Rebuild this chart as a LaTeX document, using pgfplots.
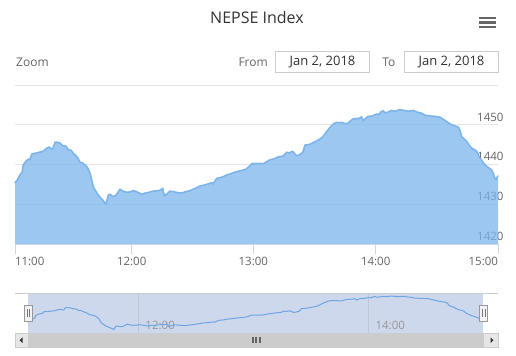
\documentclass[border=0pt]{standalone}
\usepackage{pgfplots}
\pgfplotsset{compat=1.18}
\usepackage{fontspec}
\setmainfont{Open Sans}
\definecolor{linec}{RGB}{124,181,236}
\definecolor{fillc}{RGB}{124,181,236}
\definecolor{gridc}{RGB}{230,230,230}
\definecolor{axc}{RGB}{204,214,235}
\definecolor{lab}{RGB}{102,102,102}
\definecolor{tit}{RGB}{51,51,51}
\definecolor{maskc}{RGB}{206,216,236}
\definecolor{navline}{RGB}{110,165,228}
\definecolor{navgrid}{RGB}{190,198,216}
\definecolor{navlab}{RGB}{153,153,153}
\definecolor{hborder}{RGB}{153,153,153}
\definecolor{hfill}{RGB}{242,242,242}
\definecolor{hline}{RGB}{120,120,120}
\definecolor{grip}{RGB}{100,100,100}
\definecolor{sbar}{RGB}{204,204,204}
\definecolor{sbtn}{RGB}{230,230,230}
\definecolor{boxc}{RGB}{204,204,204}

\pgfplotstableread{
x y
15 1435.4
17 1436.0
20 1437.4
22 1438.0
23.3 1439.9
25 1440.5
26.7 1441.0
29 1441.4
30 1441.2
31.7 1442.6
35 1442.8
38 1443.0
41.7 1443.2
44 1443.5
46.7 1444.1
49 1444.4
51.7 1443.9
53 1444.0
55 1445.6
57 1445.6
60 1445.4
62 1444.9
63.3 1444.7
66 1444.6
68.3 1443.7
71 1443.6
73.3 1442.8
76 1442.2
78 1441.6
80 1440.6
83 1440.3
86.7 1439.5
88 1439.0
90 1437.8
92 1435.8
93.3 1434.4
96 1433.2
98.3 1432.3
101 1431.5
103 1431.0
105 1430.3
106 1430.0
108.3 1432.3
110 1432.5
113.3 1431.9
116 1432.3
118 1433.0
120 1433.8
122 1433.4
126.7 1433.0
130 1433.1
133 1433.4
135 1433.3
138 1433.0
141.7 1432.5
145 1432.8
149 1433.0
153.3 1433.3
157 1433.4
160 1433.5
162.7 1434.0
164.3 1432.1
167 1432.6
170 1433.3
173 1433.2
176 1433.0
181.7 1432.8
186 1433.2
190 1433.4
193.3 1433.8
197 1434.2
200 1434.6
204 1434.8
206.7 1435.0
209 1435.2
211.7 1435.4
213 1435.1
216.7 1436.5
220 1436.7
223 1436.9
226.7 1437.4
230 1437.6
233 1437.9
236.7 1438.2
240 1438.4
243 1438.6
246.7 1438.9
249 1439.5
251.7 1440.2
255 1440.3
258.3 1440.2
260 1440.3
263 1440.2
266 1440.6
270 1441.2
274 1441.4
277 1441.8
280 1442.0
283 1442.1
286.7 1443.1
289 1442.9
292.7 1443.3
294.5 1442.8
296.7 1442.2
299 1442.4
301.7 1442.8
303 1443.2
305 1444.9
308 1445.0
310 1445.1
313 1445.5
317 1446.0
320 1446.4
323 1447.0
326.7 1448.3
329 1449.0
331.7 1449.8
334 1450.3
336.7 1450.6
339 1450.5
341.7 1450.6
345 1450.3
348.3 1450.4
350 1450.9
353.3 1451.5
356 1451.5
360 1451.7
361.5 1452.0
363.3 1451.0
366 1451.7
368.3 1452.1
372 1452.2
376.7 1452.7
379 1452.6
381 1453.3
383.3 1453.5
385 1453.0
388.3 1453.2
391.7 1453.6
395 1453.4
400 1453.8
404 1453.6
408 1453.4
413.3 1453.6
417 1453.2
421.7 1452.9
425 1452.4
430 1452.2
435 1452.1
440 1451.9
443 1451.4
446.7 1450.8
449 1450.4
451.7 1450.0
455 1449.7
458.3 1449.4
460 1448.6
461.7 1447.0
464 1446.5
466.7 1445.8
469 1444.9
471.7 1444.1
474 1443.8
476.7 1443.3
478 1442.6
480 1441.6
482 1440.9
485 1439.9
488 1439.3
491.7 1438.6
493 1437.9
495 1436.5
496 1436.2
498 1437.2
}\nepse

\begin{document}
\begin{tikzpicture}[x=1bp,y=1bp]
% page frame 516 x 355 (y measured from bottom)
\path[fill=white] (0,0) rectangle (516,355);

% title
\node[anchor=center, text=tit, font=\fontsize{16bp}{18bp}\selectfont] at (257,355-17) {NEPSE Index};
% hamburger icon
\foreach \yy in {17.8,22.5,27.2}
  \fill[lab] (478.5,355-\yy-1.2) rectangle (495.5,355-\yy+1.2);

% range selector
\node[anchor=west, inner sep=0pt, text=lab, font=\fontsize{12bp}{14bp}\selectfont] at (16,355-62) {Zoom};
\node[anchor=east, inner sep=0pt, text=lab, font=\fontsize{12bp}{14bp}\selectfont] at (268,355-62) {From};
\draw[boxc, line width=0.8bp] (275.5,355-51.5) rectangle (369.5,355-72.5);
\node[anchor=center, text=tit, font=\fontsize{13bp}{15bp}\selectfont] at (322.5,355-62) {Jan 2, 2018};
\node[anchor=east, inner sep=0pt, text=lab, font=\fontsize{12bp}{14bp}\selectfont] at (395.5,355-62) {To};
\draw[boxc, line width=0.8bp] (404.5,355-51.5) rectangle (498.5,355-72.5);
\node[anchor=center, text=tit, font=\fontsize{13bp}{15bp}\selectfont] at (451.5,355-62) {Jan 2, 2018};

% main chart
\begin{axis}[
  at={(15bp,111bp)}, anchor=south west,
  scale only axis, width=483bp, height=159bp,
  xmin=15, xmax=498, ymin=1420, ymax=1460,
  axis line style={draw=none},
  ytick={1420,1430,1440,1450,1460},
  yticklabels={1420,1430,1440,1450,{}},
  yticklabel pos=right,
  ytick style={draw=none},
  yticklabel style={anchor=south east, xshift=-1bp, yshift=0bp, text=lab, font=\fontsize{11.5bp}{13bp}\selectfont},
  ymajorgrids, major grid style={gridc, line width=0.8bp},
  xtick={15,131.7,253.3,375.7,498},
  xticklabels={\makebox[0pt][l]{11:00},12:00,13:00,14:00,\makebox[0pt][r]{15:00}},
  xtick pos=bottom, tick align=outside, major tick length=10bp,
  xtick style={axc, line width=0.8bp},
  xticklabel style={text=lab, font=\fontsize{11.5bp}{13bp}\selectfont, yshift=0bp},
  clip=false,
]
\addplot[draw=none, fill=fillc, fill opacity=0.75] table[x=x,y=y] {\nepse} \closedcycle;
\addplot[linec, line width=1.6bp, line join=round] table[x=x,y=y] {\nepse};
\draw[axc, line width=0.8bp] (rel axis cs:0,0) -- (rel axis cs:1,0);
\end{axis}

% navigator
\begin{axis}[
  at={(15bp,22bp)}, anchor=south west,
  scale only axis, width=483bp, height=40bp,
  xmin=1.3, xmax=513.5, ymin=1427.5, ymax=1456,
  axis line style={draw=none},
  ytick=\empty, xtick=\empty,
  clip=false,
]
\fill[maskc] (axis cs:15,1427.5) rectangle (axis cs:498,1456);
\draw[navgrid, line width=0.8bp] (axis cs:131.7,1427.5) -- (axis cs:131.7,1456);
\draw[navgrid, line width=0.8bp] (axis cs:375.7,1427.5) -- (axis cs:375.7,1456);
\node[anchor=base west, text=navlab, font=\fontsize{11.5bp}{13bp}\selectfont] at (axis cs:131.7,1427.5) [xshift=4bp, yshift=4bp] {12:00};
\node[anchor=base west, text=navlab, font=\fontsize{11.5bp}{13bp}\selectfont] at (axis cs:375.7,1427.5) [xshift=4bp, yshift=4bp] {14:00};
\addplot[navline, line width=1bp] table[x=x,y=y] {\nepse};
\draw[boxc, line width=0.8bp] (rel axis cs:0,1) -- (rel axis cs:1,1);
\end{axis}

% handles
\foreach \hx in {28.2,483.6} {
  \draw[hborder, fill=hfill, line width=0.8bp] (\hx-4,355-305) rectangle (\hx+4,355-321);
  \draw[hline, line width=0.7bp] (\hx-1.3,355-309) -- (\hx-1.3,355-317);
  \draw[hline, line width=0.7bp] (\hx+1.3,355-309) -- (\hx+1.3,355-317);
}

% scrollbar
\fill[sbar] (15,355-333.5) rectangle (498,355-347);
\fill[sbtn] (15,355-333.5) rectangle (28.2,355-347);
\fill[sbtn] (483.6,355-333.5) rectangle (498,355-347);
\draw[sbar, line width=0.8bp] (15,355-333.5) rectangle (498,355-347);
\fill[black!80] (19.5,355-340.2) -- (22.5,355-337.4) -- (22.5,355-343) -- cycle;
\fill[black!80] (493.5,355-340.2) -- (490.5,355-337.4) -- (490.5,355-343) -- cycle;
\foreach \gx in {252.5,256,259.5}
  \fill[grip] (\gx-1,355-336.7) rectangle (\gx+1,355-342.9);
\end{tikzpicture}
\end{document}
